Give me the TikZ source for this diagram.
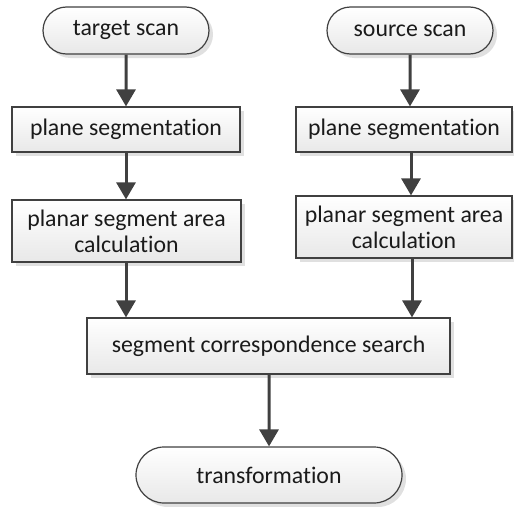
\documentclass[tikz,border=0pt]{standalone}
\usepackage{fontspec}
\setmainfont[Ligatures=NoCommon]{Carlito}
\usepackage{tikz}
\usetikzlibrary{positioning,shapes.misc,arrows.meta,shadows}
\definecolor{linegray}{HTML}{404040}
\definecolor{textgray}{HTML}{1A1A1A}

\begin{document}
\begin{tikzpicture}[
    x=1pt, y=-1pt,
    box/.style={rectangle, draw=linegray, line width=1.2pt, top color=white, bottom color=black!9,
        drop shadow={shadow xshift=4pt, shadow yshift=-4pt, fill=black!12, opacity=1},
        align=center, text=textgray, inner sep=0pt,
        font=\fontsize{23.8}{26}\selectfont},
    term/.style={box, rounded rectangle},
    arrow/.style={-{Triangle[length=17pt,width=19pt]}, draw=linegray, line width=3pt}
]
    \useasboundingbox (0,0) rectangle (514,506);

    % Left column
    \node[term, minimum width=166pt, minimum height=47pt] (target) at (126,30.5) {target scan};
    \node[box, minimum width=228pt, minimum height=45pt] (lseg) at (126,129.5) {plane segmentation};
    \node[box, minimum width=229pt, minimum height=62pt] (larea) at (126.5,231) {planar segment area\\calculation};

    % Right column
    \node[term, minimum width=166pt, minimum height=47pt] (source) at (410,30.5) {source scan};
    \node[box, minimum width=216pt, minimum height=45pt] (rseg) at (404,129.5) {plane segmentation};
    \node[box, minimum width=216pt, minimum height=62pt] (rarea) at (404,227) {planar segment area\\calculation};

    % Matching
    \node[box, minimum width=363pt, minimum height=56pt] (search) at (268.5,346) {segment correspondence search};
    \node[term, minimum width=266pt, minimum height=56pt] (trans) at (269,475) {transformation};

    % Arrows
    \draw[arrow] (target) -- (target |- lseg.north);
    \draw[arrow] (target |- lseg.south) -- (target |- larea.north);
    \draw[arrow] (target |- larea.south) -- (target |- search.north);
    \draw[arrow] (source) -- (source |- rseg.north);
    \draw[arrow] ([xshift=1pt]source |- rseg.south) -- ([xshift=1pt]source |- rarea.north);
    \draw[arrow] ([xshift=2pt]source |- rarea.south) -- ([xshift=2pt]source |- search.north);
    \draw[arrow] (search.south -| trans) -- (trans);
\end{tikzpicture}
\end{document}
